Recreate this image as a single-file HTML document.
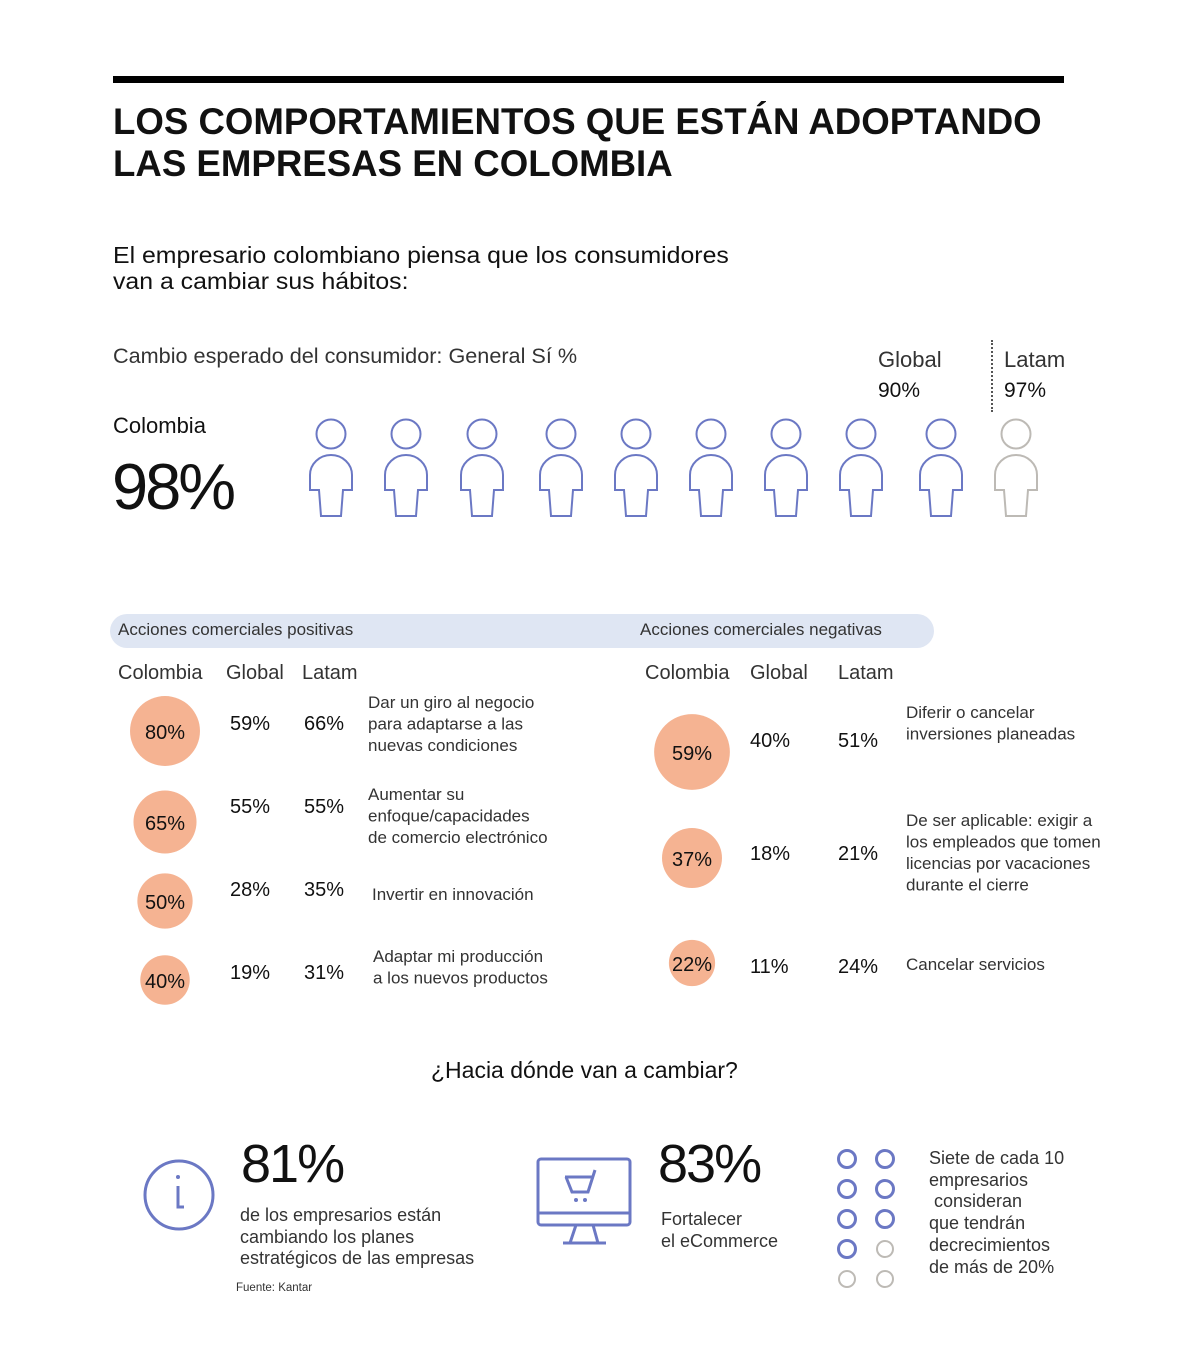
<!DOCTYPE html>
<html><head><meta charset="utf-8">
<style>
body{margin:0;background:#fff;}
#root{position:relative;width:1200px;height:1371px;overflow:hidden;font-family:"Liberation Sans",sans-serif;color:#111;}
.t{position:absolute;white-space:nowrap;line-height:1.15;}
.l{font-weight:300;color:#333;}
</style></head>
<body>
<div id="root">
<div style="position:absolute;left:113px;top:76px;width:951px;height:7px;background:#000"></div>
<div class="t" style="left:113px;top:101px;font-size:37px;font-weight:bold;line-height:42px;transform:scaleX(0.99);transform-origin:left">LOS COMPORTAMIENTOS QUE ESTÁN ADOPTANDO<br>LAS EMPRESAS EN COLOMBIA</div>
<div class="t" style="left:113px;top:242px;font-size:23px;line-height:26px;transform:scaleX(1.08);transform-origin:left">El empresario colombiano piensa que los consumidores<br>van a cambiar sus hábitos:</div>
<div class="t l" style="left:113px;top:345px;font-size:21px;transform:scaleX(1.03);transform-origin:left">Cambio esperado del consumidor: General Sí %</div>
<div class="t l" style="left:878px;top:347px;font-size:22px">Global</div>
<div class="t" style="left:878px;top:379px;font-size:21px">90%</div>
<div style="position:absolute;left:991px;top:340px;height:72px;border-left:2px dotted #555"></div>
<div class="t l" style="left:1004px;top:347px;font-size:22px">Latam</div>
<div class="t" style="left:1004px;top:379px;font-size:21px">97%</div>
<div class="t" style="left:113px;top:413px;font-size:22px">Colombia</div>
<div class="t" style="left:112px;top:450px;font-size:65px;letter-spacing:-3px">98%</div>
<svg id="people" style="position:absolute;left:0;top:0" width="1200" height="560"></svg>

<div style="position:absolute;left:110px;top:614px;width:824px;height:34px;background:#dfe6f3;border-radius:17px"></div>
<div class="t l" style="left:118px;top:620px;font-size:17px">Acciones comerciales positivas</div>
<div class="t l" style="left:640px;top:620px;font-size:17px">Acciones comerciales negativas</div>
<div class="t l" style="left:118px;top:662px;font-size:20px">Colombia</div>
<div class="t l" style="left:226px;top:662px;font-size:20px">Global</div>
<div class="t l" style="left:302px;top:662px;font-size:20px">Latam</div>
<div class="t l" style="left:645px;top:662px;font-size:20px">Colombia</div>
<div class="t l" style="left:750px;top:662px;font-size:20px">Global</div>
<div class="t l" style="left:838px;top:662px;font-size:20px">Latam</div>
<svg id="bubbles" style="position:absolute;left:0;top:0" width="1200" height="1020"></svg>

<div class="t" style="left:431px;top:1057px;font-size:23px">¿Hacia dónde van a cambiar?</div>
<svg style="position:absolute;left:140px;top:1157px" width="80" height="80"><circle cx="39" cy="38" r="34" fill="none" stroke="#6b78c4" stroke-width="3"/><circle cx="38" cy="20" r="2" fill="#6b78c4"/><path d="M38 29 V50 H44" fill="none" stroke="#6b78c4" stroke-width="3"/></svg>
<div class="t" style="left:241px;top:1133px;font-size:54px;letter-spacing:-2px">81%</div>
<div class="t l" style="left:240px;top:1205px;font-size:18px;line-height:21.5px">de los empresarios están<br>cambiando los planes<br>estratégicos de las empresas</div>
<div class="t l" style="left:236px;top:1282px;font-size:11.5px">Fuente: Kantar</div>
<svg style="position:absolute;left:530px;top:1150px" width="110" height="100"><rect x="8" y="9" width="92" height="66" rx="3" fill="none" stroke="#6b78c4" stroke-width="3"/><line x1="8" y1="63" x2="100" y2="63" stroke="#6b78c4" stroke-width="3"/><path d="M46 75 L40 93 M63 75 L68 93 M33 93 H76" stroke="#6b78c4" stroke-width="3" fill="none"/><path d="M35 27 H64 M36 27 L42 42 H58 L65 20" fill="none" stroke="#6b78c4" stroke-width="3"/><circle cx="46" cy="50" r="2" fill="#6b78c4"/><circle cx="55" cy="50" r="2" fill="#6b78c4"/></svg>
<div class="t" style="left:658px;top:1133px;font-size:54px;letter-spacing:-2px">83%</div>
<div class="t l" style="left:661px;top:1208px;font-size:18px;line-height:22px">Fortalecer<br>el eCommerce</div>
<svg id="dots" style="position:absolute;left:0;top:0" width="1200" height="1371"></svg>
<div class="t l" style="left:929px;top:1148px;font-size:18px;line-height:21.7px">Siete de cada 10<br>empresarios<br>&nbsp;consideran<br>que tendrán<br>decrecimientos<br>de más de 20%</div>
</div>
<script>
const NS='http://www.w3.org/2000/svg';
const peopleTotal=10;
const peopleFilled=9;
const personX=[331,406,482,561,636,711,786,861,941,1016];
const posValues=[80,65,50,40];
const posGlobal=['59%','55%','28%','19%'];
const posLatam=['66%','55%','35%','31%'];
const posText=[['Dar un giro al negocio','para adaptarse a las','nuevas condiciones'],['Aumentar su','enfoque/capacidades','de comercio electrónico'],['Invertir en innovación'],['Adaptar mi producción',' a los nuevos productos']];
const negValues=[59,37,22];
const negGlobal=['40%','18%','11%'];
const negLatam=['51%','21%','24%'];
const negText=[['Diferir o cancelar','inversiones planeadas'],['De ser aplicable: exigir a','los empleados que tomen','licencias por vacaciones','durante el cierre'],['Cancelar servicios']];
const dotsTotal=10;
const dotsFilled=7;

function mk(p,tag,a){const e=document.createElementNS(NS,tag);for(const k in a)e.setAttribute(k,a[k]);p.appendChild(e);return e;}
const ppl=document.getElementById('people');
for(let i=0;i<peopleTotal;i++){
  const cx=personX[i];const col=i<peopleFilled?'#6b78c4':'#bdbab5';
  const h=mk(ppl,'circle',{cx:cx,cy:434,r:14.5,fill:'none',stroke:col,'stroke-width':2});
  
  
  const b=mk(ppl,'path',{d:`M${cx-12} 490 H${cx-21} V475 A21 20 0 0 1 ${cx+21} 475 V490 H${cx+12} L${cx+10} 516 H${cx-10} Z`,fill:'none',stroke:col,'stroke-width':2});
  
  
}
const bub=document.getElementById('bubbles');
function txt(x,y,s,size,w,anchor,fill){const t=mk(bub,'text',{x:x,y:y,'font-size':size,'font-family':'Liberation Sans, sans-serif','font-weight':w||'normal','text-anchor':anchor||'start',fill:fill||'#111'});t.textContent=s;return t;}
const posY=[731,822,901,980];
posValues.forEach((v,i)=>{
  const r=3.91*Math.sqrt(v);
  const c=mk(bub,'circle',{cx:165,cy:posY[i],r:r,fill:'#f5b392'});
  
  
  const vt=txt(165,posY[i]+8,v+'%',20,'normal','middle');
  
  
  const gy=[730,813,896,979][i];
  txt(230,gy,posGlobal[i],20);txt(304,gy,posLatam[i],20);
  const ty=[708,800,900,962][i];const tx=[368,368,372,373][i];
  posText[i].forEach((s,j)=>{const t=txt(tx,ty+j*21.5,s,17,'300');t.setAttribute('fill','#333');});
});
const negY=[752,858,963];
negValues.forEach((v,i)=>{
  const r=4.93*Math.sqrt(v);
  const c=mk(bub,'circle',{cx:692,cy:negY[i],r:r,fill:'#f5b392'});
  
  
  const vt=txt(692,negY[i]+8,v+'%',20,'normal','middle');
  
  
  const gy=[747,860,973][i];
  txt(750,gy,negGlobal[i],20);txt(838,gy,negLatam[i],20);
  const ty=[718,826,970][i];
  negText[i].forEach((s,j)=>{const t=txt(906,ty+j*21.5,s,17,'300');t.setAttribute('fill','#333');});
});
const dots=document.getElementById('dots');
for(let i=0;i<dotsTotal;i++){
  const col=i%2,row=Math.floor(i/2);
  const idx=row*2+col;
  const filled=idx<dotsFilled;
  const d=mk(dots,'circle',{cx:847+col*38,cy:1159+row*30,r:filled?8.5:8,fill:'none',stroke:filled?'#6b78c4':'#bdbab5','stroke-width':filled?3:2});
  
  
}
</script>
</body></html>
